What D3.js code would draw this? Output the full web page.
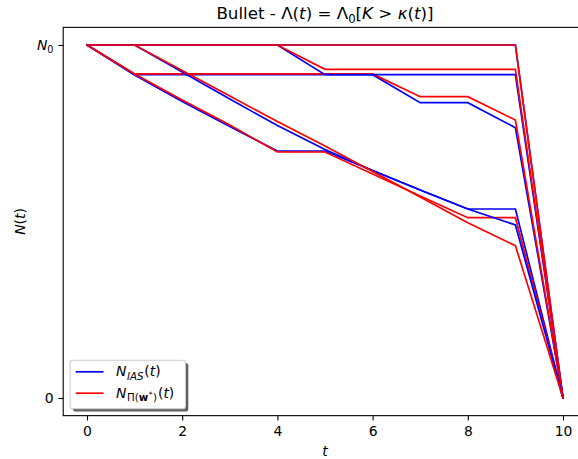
<!DOCTYPE html>
<html><head><meta charset="utf-8">
<script src="https://cdn.jsdelivr.net/npm/d3@7"></script>
<style>
body{margin:0;background:#fff}
svg{display:block}
text{font-family:"DejaVu Sans",sans-serif;fill:#000}
</style>
</head><body><div id="chart"></div>
<script>
// ---- data ----
const times = [0, 1, 2, 3, 4, 5, 6, 7, 8, 9, 10];
// N_IAS(t) paths (normalised by N0)
const iasPath1 = [1, 1, 1, 1, 1, 1, 1, 1, 1, 1, 0];
const iasPath2 = [1, 0.916, 0.916, 0.916, 0.916, 0.916, 0.916, 0.8365, 0.8365, 0.7657, 0];
const iasPath3 = [1, 1, 1, 1, 1, 0.916, 0.916, 0.916, 0.916, 0.916, 0];
const iasPath4 = [1, 0.915, 0.840, 0.769, 0.6997, 0.6997, 0.6445, 0.589, 0.5354, 0.5354, 0];
const iasPath5 = [1, 1, 0.9235, 0.847, 0.7717, 0.704, 0.6445, 0.589, 0.5354, 0.4901, 0];
// N_Pi(w*)(t) paths
const piPath1 = [1, 1, 1, 1, 1, 1, 1, 1, 1, 1, 0];
const piPath2 = [1, 0.918, 0.918, 0.918, 0.918, 0.918, 0.918, 0.8535, 0.8535, 0.7875, 0];
const piPath3 = [1, 1, 1, 1, 1, 0.9312, 0.9312, 0.9312, 0.9312, 0.9312, 0];
const piPath4 = [1, 0.918, 0.8442, 0.7734, 0.6969, 0.6969, 0.6346, 0.5722, 0.5108, 0.5108, 0];
const piPath5 = [1, 1, 0.9278, 0.8555, 0.783, 0.7139, 0.6416, 0.5694, 0.4966, 0.4314, 0];
const xTicks = [0, 2, 4, 6, 8, 10];
const yTicks = [0, 1];

// ---- layout ----
const W = 578, H = 459;
const L = 63.2, R = 586.8, T = 27.35, B = 415.65;
const FS = 13.9;
const x = d3.scaleLinear().domain([-0.5, 10.5]).range([L, R]);
const y = d3.scaleLinear().domain([-0.05, 1.05]).range([B, T]);

const svg = d3.select("#chart").append("svg").attr("width", W).attr("height", H);
svg.append("defs").append("clipPath").attr("id", "clip")
  .append("rect").attr("x", L).attr("y", T).attr("width", R - L).attr("height", B - T);

const line = d3.line().x((d, i) => x(times[i])).y(d => y(d));
const series = [
  [iasPath1, "#0000ff"], [piPath1, "#ff0000"],
  [iasPath2, "#0000ff"], [piPath2, "#ff0000"],
  [iasPath3, "#0000ff"], [piPath3, "#ff0000"],
  [iasPath4, "#0000ff"], [piPath4, "#ff0000"],
  [iasPath5, "#0000ff"], [piPath5, "#ff0000"]
];
const g = svg.append("g").attr("clip-path", "url(#clip)");
g.selectAll("path.s").data(series).join("path").attr("class", "s")
  .attr("d", d => line(d[0])).attr("fill", "none").attr("stroke", d => d[1])
  .attr("stroke-width", 1.7).attr("stroke-linejoin", "miter").attr("stroke-linecap", "square");

// spines
const sp = svg.append("g").attr("stroke", "#000").attr("stroke-width", 1.1).attr("fill", "none");
sp.append("rect").attr("x", L).attr("y", T).attr("width", R - L).attr("height", B - T);

// x axis
const xa = svg.append("g").attr("transform", `translate(0,${B})`)
  .call(d3.axisBottom(x).tickValues(xTicks).tickSize(4.86).tickPadding(5.6).tickFormat(d3.format("d")));
xa.select(".domain").remove();
xa.selectAll("line").attr("stroke", "#000").attr("stroke-width", 1.1);
xa.selectAll("text").attr("font-size", FS).attr("font-family", "DejaVu Sans").attr("fill", "#000");

// y axis
const ya = svg.append("g").attr("transform", `translate(${L},0)`)
  .call(d3.axisLeft(y).tickValues(yTicks).tickSize(4.86).tickPadding(4.86).tickFormat(d => d === 0 ? "0" : ""));
ya.select(".domain").remove();
ya.selectAll("line").attr("stroke", "#000").attr("stroke-width", 1.1);
ya.selectAll("text").attr("font-size", FS).attr("font-family", "DejaVu Sans").attr("fill", "#000");
ya.selectAll(".tick").filter(d => d === 1).select("text").each(function () {
  const t = d3.select(this);
  t.append("tspan").attr("font-style", "italic").text("N");
  t.append("tspan").attr("font-size", FS * 0.7).attr("dy", "0.32em").text("0");
});

// title
const title = svg.append("text").attr("x", (L + R) / 2).attr("y", 19).attr("text-anchor", "middle")
  .attr("font-size", 16.7);
title.append("tspan").text("Bullet - Λ(");
title.append("tspan").attr("font-style", "italic").text("t");
title.append("tspan").text(") = Λ");
title.append("tspan").attr("font-size", 16.7 * 0.7).attr("dy", 3.5).text("0");
title.append("tspan").attr("dy", -3.5).text("[");
title.append("tspan").attr("font-style", "italic").text("K");
title.append("tspan").text(" > ");
title.append("tspan").attr("font-style", "italic").text("κ");
title.append("tspan").text("(");
title.append("tspan").attr("font-style", "italic").text("t");
title.append("tspan").text(")]");

// axis labels
svg.append("text").attr("x", (L + R) / 2).attr("y", 455.5).attr("text-anchor", "middle")
  .attr("font-size", FS).attr("font-style", "italic").text("t");
const yl = svg.append("text").attr("transform", `translate(25,${(T + B) / 2}) rotate(-90)`)
  .attr("text-anchor", "middle").attr("font-size", FS);
yl.append("tspan").attr("font-style", "italic").text("N");
yl.append("tspan").text("(");
yl.append("tspan").attr("font-style", "italic").text("t");
yl.append("tspan").text(")");

// legend
const lg = svg.append("g");
const legX = 70.1, legBottom = 408.8, legTop = 360.2;
const shadow = lg.append("rect");
const frame = lg.append("rect");
const rows = [{ color: "#0000ff", y: 371.8 }, { color: "#ff0000", y: 393.2 }];
rows.forEach(r => {
  lg.append("line").attr("x1", 75.7).attr("x2", 103.5).attr("y1", r.y).attr("y2", r.y)
    .attr("stroke", r.color).attr("stroke-width", 1.7);
});
const tx = 116;
const SUB = FS * 0.74;
const t1 = lg.append("text").attr("x", tx).attr("y", rows[0].y + 4.6).attr("font-size", FS);
t1.append("tspan").attr("font-style", "italic").text("N");
t1.append("tspan").attr("font-style", "italic").attr("font-size", SUB).attr("dy", 3.2).attr("dx", 0.5).text("IAS");
t1.append("tspan").attr("dy", -3.2).attr("dx", 0.8).text("(");
t1.append("tspan").attr("font-style", "italic").text("t");
t1.append("tspan").text(")");
const t2 = lg.append("text").attr("x", tx).attr("y", rows[1].y + 4.6).attr("font-size", FS);
t2.append("tspan").attr("font-style", "italic").text("N");
t2.append("tspan").attr("font-size", SUB).attr("dy", 3.2).attr("dx", 0.5).text("Π(");
t2.append("tspan").attr("font-size", SUB).attr("font-weight", "bold").text("w");
t2.append("tspan").attr("font-size", FS * 0.55).attr("dy", -4.5).attr("dx", 0.5).text("*");
t2.append("tspan").attr("font-size", SUB).attr("dy", 4.5).attr("dx", 0.5).text(")");
t2.append("tspan").attr("dy", -3.2).attr("dx", 1).text("(");
t2.append("tspan").attr("font-style", "italic").text("t");
t2.append("tspan").text(")");
const wText = Math.max(t1.node().getComputedTextLength(), t2.node().getComputedTextLength()) + 4;
const legR = Math.max(tx + wText + 5.6, 185.5);
shadow.attr("x", legX + 2.8).attr("y", legTop + 2.8).attr("width", legR - legX).attr("height", legBottom - legTop)
  .attr("rx", 2.8).attr("fill", "#5f5f5f");
frame.attr("x", legX).attr("y", legTop).attr("width", legR - legX).attr("height", legBottom - legTop)
  .attr("rx", 2.8).attr("fill", "#fff").attr("stroke", "#cccccc").attr("stroke-width", 1.1);
</script>
</body></html>
